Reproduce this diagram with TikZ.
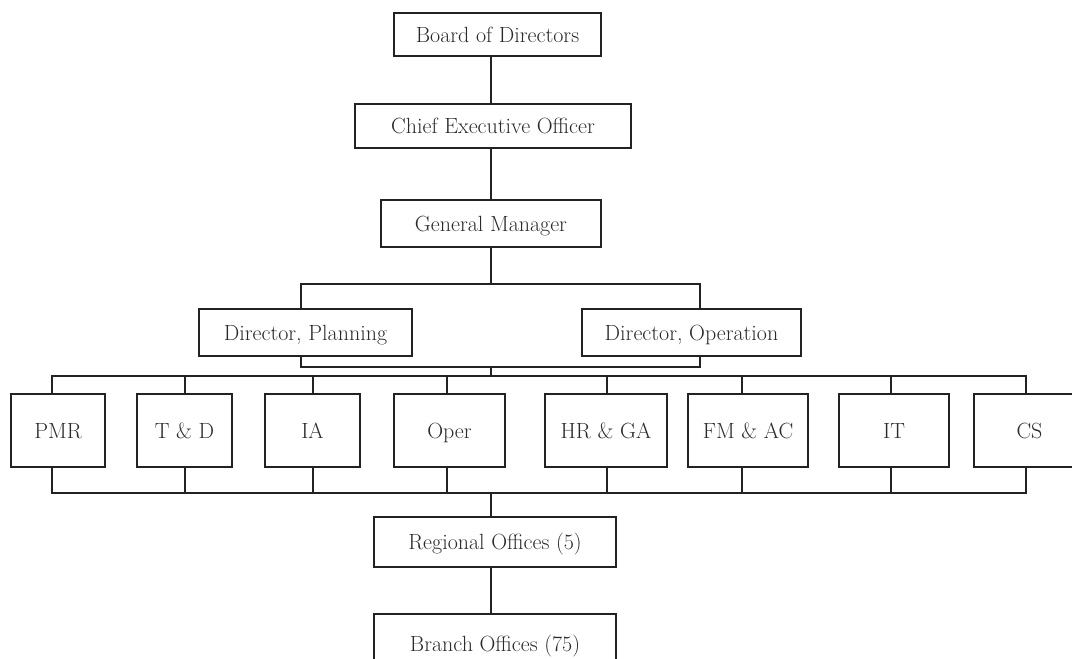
\documentclass[tikz,border=0pt]{standalone}
\begin{document}
\begin{tikzpicture}[x=1pt,y=-1pt,
  box/.style={draw=linec, line width=1.7pt, text=textc, inner sep=0pt,
    font=\fontsize{22}{26}\selectfont, text height=15pt, text depth=0pt},
  conn/.style={draw=linec, line width=1.7pt}]
\definecolor{linec}{HTML}{222222}
\definecolor{textc}{HTML}{2A2A2A}
\useasboundingbox (0,0) rectangle (1072,659);
% top chain
\node[box, minimum width=207pt, minimum height=43pt] (board) at (497.5,34.5) {Board of Directors};
\node[box, minimum width=276pt, minimum height=44pt] (ceo) at (493,126) {Chief Executive Officer};
\node[box, minimum width=220pt, minimum height=47pt] (gm) at (491,223.5) {General Manager};
\node[box, minimum width=213pt, minimum height=47pt] (dp) at (305.5,332.5) {Director, Planning};
\node[box, minimum width=219pt, minimum height=47pt] (dop) at (691.5,332.5) {Director, Operation};
% departments
\node[box, minimum width=94pt, minimum height=73pt] (pmr) at (58,430.5) {PMR};
\node[box, minimum width=95pt, minimum height=73pt] (td) at (184.5,430.5) {T \& D};
\node[box, minimum width=95pt, minimum height=73pt] (ia) at (312.5,430.5) {IA};
\node[box, minimum width=111pt, minimum height=73pt] (oper) at (449.5,430.5) {Oper};
\node[box, minimum width=122pt, minimum height=73pt] (hr) at (606,430.5) {HR \& GA};
\node[box, minimum width=120pt, minimum height=73pt] (fm) at (748,430.5) {FM \& AC};
\node[box, minimum width=110pt, minimum height=73pt] (it) at (894,430.5) {IT};
\node[box, minimum width=111pt, minimum height=73pt] (cs) at (1029.5,430.5) {CS};
% offices
\node[box, minimum width=242pt, minimum height=50pt] (reg) at (495,542) {Regional Offices (5)};
\node[box, minimum width=242pt, minimum height=60pt] (branch) at (495,644) {Branch Offices (75)};
% junction coordinates
\coordinate (cx) at (491,0);
\coordinate (dpx) at (301,0);
\coordinate (dox) at (700,0);
\coordinate (j1) at (491,284);
\coordinate (j2) at (491,367);
\coordinate (bus1) at (491,376);
\coordinate (bus2) at (491,493);
% connectors
\draw[conn] (board.south -| cx) -- (ceo.north -| cx);
\draw[conn] (ceo.south -| cx) -- (gm.north -| cx);
\draw[conn] (gm.south -| cx) -- (j1);
\draw[conn] (dp.north -| dpx) |- (j1) -| (dop.north -| dox);
\draw[conn] (dp.south -| dpx) |- (j2) -| (dop.south -| dox);
\draw[conn] (j2) -- (bus1);
\foreach \n/\s in {pmr/-6, td/0.5, ia/0.5, oper/-2.5, hr/1, fm/-6, it/-3, cs/-3.5} {
  \draw[conn] ([xshift=\s pt]\n.north) |- (bus1);
  \draw[conn] ([xshift=\s pt]\n.south) |- (bus2);
}
\draw[conn] (bus2) -- (reg.north -| cx);
\draw[conn] (reg.south -| cx) -- (branch.north -| cx);
\end{tikzpicture}
\end{document}
